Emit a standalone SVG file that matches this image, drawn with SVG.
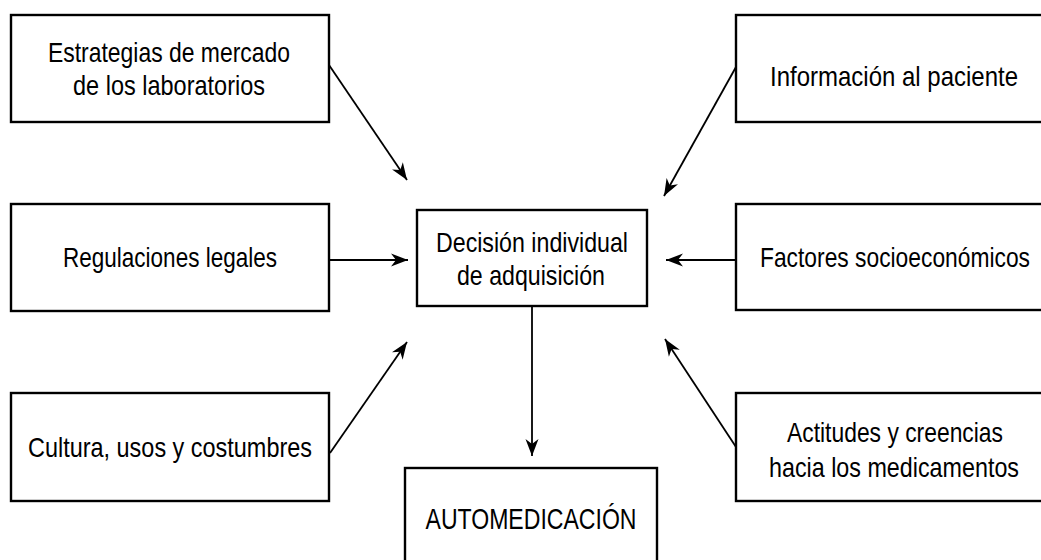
<svg xmlns="http://www.w3.org/2000/svg" width="1041" height="560" viewBox="0 0 1041 560">
<defs>
<style>
.box{fill:#fff;stroke:#000;stroke-width:2.4}
.t{font-family:"Liberation Sans",Arial,sans-serif;font-size:28px;fill:#000;text-anchor:middle}
.big{font-size:29px}
.c{stroke:#000;stroke-width:1.8;fill:none;marker-end:url(#ah)}
</style>
<marker id="ah" markerUnits="userSpaceOnUse" viewBox="-1 -8 20 16" markerWidth="20" markerHeight="16" refX="17" refY="0" orient="auto">
<path d="M0,-6.5 L17,0 L0,6.5 L5,0 Z" fill="#000"/>
</marker>
</defs>
<rect width="1041" height="560" fill="#fff"/>
<g id="connectors">
<line class="c" x1="329" y1="65" x2="407" y2="180"/>
<line class="c" x1="329" y1="260" x2="408" y2="260"/>
<line class="c" x1="330" y1="453" x2="407" y2="342"/>
<line class="c" x1="736" y1="67" x2="664" y2="196"/>
<line class="c" x1="736" y1="260" x2="666" y2="260"/>
<line class="c" x1="736" y1="447" x2="665" y2="339"/>
<line class="c" x1="532" y1="306" x2="532" y2="456"/>
</g>
<g id="n-estrategias">
<rect class="box" x="11" y="15" width="318" height="107"/>
<text class="t" x="169" y="62" textLength="242" lengthAdjust="spacingAndGlyphs">Estrategias de mercado</text>
<text class="t" x="169" y="95" textLength="192" lengthAdjust="spacingAndGlyphs">de los laboratorios</text>
</g>
<g id="n-regulaciones">
<rect class="box" x="11" y="204" width="318" height="107"/>
<text class="t" x="170" y="267" textLength="214" lengthAdjust="spacingAndGlyphs">Regulaciones legales</text>
</g>
<g id="n-cultura">
<rect class="box" x="11" y="393" width="318" height="108"/>
<text class="t" x="170" y="457" textLength="284" lengthAdjust="spacingAndGlyphs">Cultura, usos y costumbres</text>
</g>
<g id="n-decision">
<rect class="box" x="417" y="210" width="230" height="96"/>
<text class="t" x="532" y="252" textLength="192" lengthAdjust="spacingAndGlyphs">Decisión individual</text>
<text class="t" x="531" y="285" textLength="148" lengthAdjust="spacingAndGlyphs">de adquisición</text>
</g>
<g id="n-automedicacion">
<rect class="box" x="405" y="468" width="252" height="93.5"/>
<text class="t big" x="531" y="529" textLength="211" lengthAdjust="spacingAndGlyphs">AUTOMEDICACIÓN</text>
</g>
<g id="n-informacion">
<rect class="box" x="736" y="15" width="306.5" height="107"/>
<text class="t" x="894" y="86" textLength="248" lengthAdjust="spacingAndGlyphs">Información al paciente</text>
</g>
<g id="n-factores">
<rect class="box" x="736" y="204" width="306.5" height="106"/>
<text class="t" x="895" y="267" textLength="270" lengthAdjust="spacingAndGlyphs">Factores socioeconómicos</text>
</g>
<g id="n-actitudes">
<rect class="box" x="736" y="393" width="306.5" height="108"/>
<text class="t" x="895" y="442" textLength="216" lengthAdjust="spacingAndGlyphs">Actitudes y creencias</text>
<text class="t" x="894" y="477" textLength="250" lengthAdjust="spacingAndGlyphs">hacia los medicamentos</text>
</g>
</svg>
